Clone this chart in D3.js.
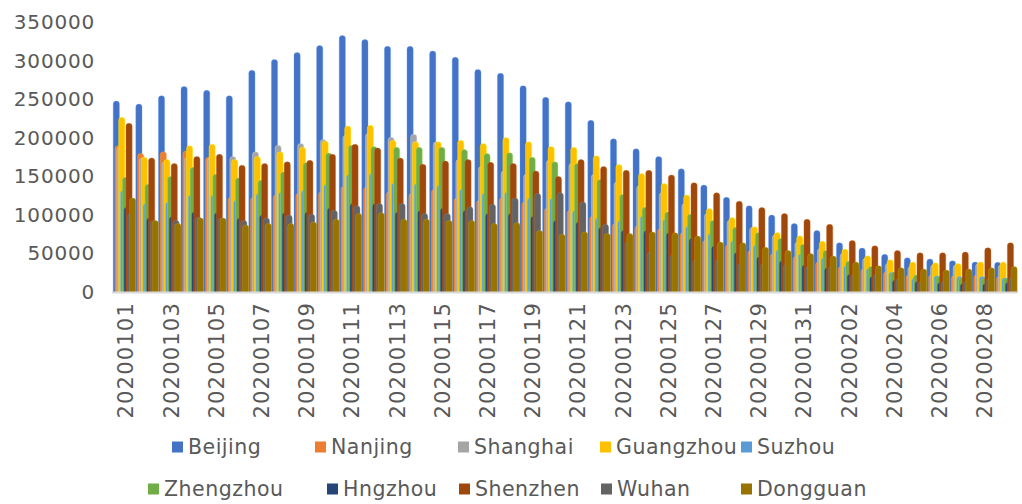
<!DOCTYPE html>
<html>
<head>
<meta charset="utf-8">
<script src="https://cdn.jsdelivr.net/npm/d3@7/dist/d3.min.js"></script>
<style>
  html, body { margin: 0; padding: 0; background: #ffffff; }
  svg { display: block; }
  text { font-family: "DejaVu Sans", sans-serif; fill: #595959; }
</style>
</head>
<body>
<svg id="chart" width="1022" height="504"></svg>
<script>
const categories = [
  "20200101","20200102","20200103","20200104","20200105","20200106","20200107","20200108","20200109","20200110",
  "20200111","20200112","20200113","20200114","20200115","20200116","20200117","20200118","20200119","20200120",
  "20200121","20200122","20200123","20200124","20200125","20200126","20200127","20200128","20200129","20200130",
  "20200131","20200201","20200202","20200203","20200204","20200205","20200206","20200207","20200208","20200209"
];
const tickLabels = ["20200101","20200103","20200105","20200107","20200109","20200111","20200113","20200115","20200117","20200119",
  "20200121","20200123","20200125","20200127","20200129","20200131","20200202","20200204","20200206","20200208"];
const yTicks = [0, 50000, 100000, 150000, 200000, 250000, 300000, 350000];
const seriesNames = ["Beijing","Nanjing","Shanghai","Guangzhou","Suzhou","Zhengzhou","Hngzhou","Shenzhen","Wuhan","Dongguan"];
const seriesColors = ["#4472C4","#ED7D31","#A5A5A5","#FFC000","#5B9BD5","#70AD47","#264478","#9E480E","#636363","#997300"];

const beijing = [248000,244000,255000,267000,262000,255000,288000,302000,311000,320000,333000,328000,319000,319000,313000,305000,289000,284000,268000,253000,247000,223000,199000,186000,176000,160000,139000,123000,112000,100000,89000,80000,64000,57000,49000,44500,43000,40500,39000,38500];
const nanjing = [190000,180000,182000,183000,175000,123000,123000,126000,128000,130000,137000,136000,130000,128000,133000,122000,119000,122000,117000,109000,106000,98000,89000,86000,82000,77000,67000,61000,54000,50000,46000,39000,33000,30000,26000,22000,22000,21000,22000,20000];
const shanghai = [188000,174000,169000,175000,174000,176000,182000,190500,193000,198000,203500,206000,201000,205000,195000,172000,163000,157000,153000,171000,167000,153000,143000,138000,129000,115000,102000,93000,84000,74000,65000,56600,50000,43700,37000,33000,35000,35000,37000,35000];
const guangzhou = [227000,175000,172000,190000,192000,172000,176000,182000,188000,196000,215600,216500,197000,195000,195000,197000,193000,200500,195000,189000,188000,177000,165500,154000,141000,126000,108500,96800,84700,77400,73000,66000,55700,47000,42000,39000,38000,37000,39000,39000];
const suzhou = [132000,115000,117000,126000,126000,119000,128000,130000,132000,140000,153000,154000,141700,141000,139000,133500,128700,130000,122000,122000,106000,96000,93000,99000,94600,85500,76000,67000,61000,55000,50000,44500,34000,30700,25500,17700,21000,20000,20000,18500];
const zhengzhou = [149000,140000,150000,162000,153000,148000,145000,156000,168000,180600,190500,189000,188000,188000,188000,185000,180000,181000,175000,169000,167000,146000,126600,110000,104000,101000,93000,84000,77000,69600,62000,54000,40000,33000,26000,22000,20000,18500,17700,17700];
const hngzhou = [110000,96000,97600,104000,103000,96000,100000,103000,104000,109000,115000,115000,104000,106000,109000,106000,102000,102000,98500,93000,91000,84000,80000,80000,77000,69600,59600,51400,45800,40600,35000,31500,23000,20000,15500,14000,12500,11000,11000,12500];
const shenzhen = [219000,174000,167000,176000,179000,164600,167000,169000,171000,179000,192000,187000,174000,166000,170000,172000,168500,167000,157000,150000,172000,163000,158000,158000,152000,142000,129000,118000,109800,102000,94600,88000,67000,60000,54000,51000,51000,52000,57500,64000];
const wuhan = [102000,93000,93000,97000,96000,93000,96000,100000,101000,106000,112000,115000,115000,102000,102000,110600,114000,122000,128000,129000,117000,88000,65000,52000,48000,41500,41500,37000,37000,35000,33000,33000,22000,23000,17700,14000,14000,14000,17700,18500];
const dongguan = [122000,93000,89000,96000,96000,87000,89000,89000,91000,94600,102000,103000,94600,94600,93000,93000,89000,90000,80000,75000,78000,76000,76000,78000,77000,72600,65000,64000,58000,54000,50000,46700,39000,34000,31500,30000,28500,30000,31500,33000];

const seriesValues = [beijing, nanjing, shanghai, guangzhou, suzhou, zhengzhou, hngzhou, shenzhen, wuhan, dongguan];

const svg = d3.select("#chart");
svg.append("rect").attr("width", 1022).attr("height", 504).attr("fill", "#ffffff");

const x = d3.scaleBand().domain(categories).range([112, 1016]).padding(0);
const y = d3.scaleLinear().domain([0, 350000]).range([292, 22.5]);
const barW = 6.2;
const off = d3.scaleLinear().domain([0, seriesNames.length - 1]).range([1.2, 17.6]);

function barPath(x0, yTop, w, yBase) {
  const h = yBase - yTop;
  const r = Math.min(3, w / 2, h);
  return `M${x0},${yBase} L${x0},${yTop + r} Q${x0},${yTop} ${x0 + r},${yTop} L${x0 + w - r},${yTop} Q${x0 + w},${yTop} ${x0 + w},${yTop + r} L${x0 + w},${yBase} Z`;
}

const plot = svg.append("g");
seriesValues.forEach((vals, si) => {
  const color = seriesColors[si];
  const g = plot.append("g").attr("class", "series-" + seriesNames[si]);
  g.selectAll("path")
    .data(categories.map((c, i) => ({ c, v: vals[i] })))
    .join("path")
    .attr("d", d => barPath(x(d.c) + off(si), y(d.v), barW, y(0)))
    .attr("fill", color)
    .attr("stroke", d3.color(color).brighter(0.9))
    .attr("stroke-opacity", 0.6)
    .attr("stroke-width", 0.6);
});

// category axis line
svg.append("line")
  .attr("x1", 112).attr("x2", 1018)
  .attr("y1", y(0) + 0.5).attr("y2", y(0) + 0.5)
  .attr("stroke", "#d9d9d9").attr("stroke-width", 2);

// y axis
const yAxis = svg.append("g")
  .attr("transform", "translate(112,0)")
  .call(d3.axisLeft(y).tickValues(yTicks).tickSize(0).tickPadding(17).tickFormat(d3.format("d")));
yAxis.select(".domain").remove();
yAxis.selectAll("text")
  .attr("font-family", "DejaVu Sans").attr("font-size", 20).attr("fill", "#595959")
  .attr("letter-spacing", 0.8);

// x tick labels (rotated)
const xl = svg.append("g");
xl.selectAll("text")
  .data(tickLabels)
  .join("text")
  .attr("transform", d => `translate(${x(d) + x.bandwidth() / 2 + 3},302) rotate(-90)`)
  .attr("text-anchor", "end")
  .attr("dominant-baseline", "central")
  .attr("font-size", 21)
  .attr("letter-spacing", 1.2)
  .text(d => d);

// legend
const legendMarkerX = [172, 315, 458, 600, 741, 148, 327, 459, 601, 741];
const legendRowY = [447, 489];
const lg = svg.append("g");
seriesNames.forEach((name, i) => {
  const row = i < 5 ? 0 : 1;
  const mx = legendMarkerX[i];
  const cy = legendRowY[row];
  lg.append("rect")
    .attr("x", mx).attr("y", cy - 5.5)
    .attr("width", 11).attr("height", 11)
    .attr("fill", seriesColors[i]);
  lg.append("text")
    .attr("x", mx + 16).attr("y", cy)
    .attr("dominant-baseline", "central")
    .attr("font-size", 20.5)
    .attr("letter-spacing", 0.5)
    .text(name);
});
</script>
</body>
</html>
